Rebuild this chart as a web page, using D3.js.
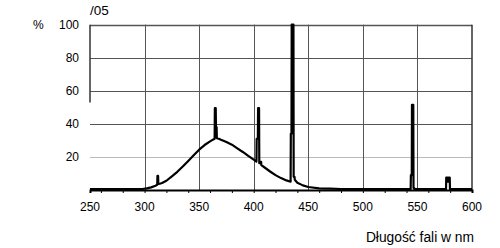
<!DOCTYPE html>
<html>
<head>
<meta charset="utf-8">
<script src="https://cdn.jsdelivr.net/npm/d3@7"></script>
<style>
  body { margin: 0; background: #fff; }
  svg text { font-family: "Liberation Sans", Arial, sans-serif; font-size: 12px; fill: #000; }
</style>
</head>
<body>
<div id="chart"></div>
<script>
// spectrum: wavelength (nm) and relative intensity (%)
const wavelengths = [250, 270, 290, 298, 302, 306, 310, 311.6, 311.8, 312.4, 312.6, 314, 316, 320, 325, 330, 335, 340, 345, 350, 355, 360, 363, 364.2, 364.4, 365.2, 365.4, 366, 366.2, 368, 370, 375, 380, 385, 390, 395, 400, 402.5, 402.7, 403.8, 404.0, 404.9, 405.1, 405.8, 406.0, 406.8, 407, 410, 415, 420, 425, 430, 433.8, 434.0, 434.6, 434.8, 436.4, 436.6, 437.4, 437.6, 440, 445, 450, 460, 470, 480, 500, 520, 540, 543.8, 544.0, 544.8, 545.0, 546.2, 546.4, 547, 547.2, 550, 570, 576.2, 576.4, 577.6, 577.8, 578.4, 578.6, 579.6, 579.8, 585, 600]
const intensity = [0.5, 0.5, 0.5, 0.6, 1, 1.6, 2.6, 3.2, 8.5, 8.5, 3.6, 3.8, 4.2, 5.6, 8.2, 11, 14.2, 17.6, 21, 24.4, 27.2, 29.4, 30.6, 31, 49.5, 49.5, 38, 38, 31.4, 31, 30.4, 29, 27.4, 25.2, 23, 20.6, 18.4, 17.2, 31, 31, 49.5, 49.5, 16.2, 16.2, 17, 17, 15, 13.6, 11.2, 9, 7.2, 5.8, 5, 34, 34, 100, 100, 8, 8, 6.2, 4.4, 2.8, 1.8, 1, 0.8, 0.6, 0.5, 0.5, 0.5, 0.6, 9, 9, 51.5, 51.5, 1.2, 1.2, 0.5, 0.5, 0.5, 0.5, 7.5, 7.5, 5, 5, 7.5, 7.5, 0.5, 0.5, 0.5]

const xTickLabels = [250, 300, 350, 400, 450, 500, 550, 600]
const xGridValues = [300, 350, 400, 450, 500, 550]
const xMinorTicks = d3.range(260, 601, 20)
const yTickLabels = [20, 40, 60, 80, 100]
const chartCode = '/05'
const unitLabel = '%'
const xTitle = 'Długość fali w nm'

const width = 500, height = 248
const plotLeft = 90, plotRight = 472, plotTop = 24.7, plotBottom = 190

const svg = d3.select('#chart').append('svg')
  .attr('width', width)
  .attr('height', height)

const x = d3.scaleLinear().domain([250, 600]).range([plotLeft, plotRight])
const y = d3.scaleLinear().domain([0, 100]).range([plotBottom, plotTop])

// grid
svg.append('g').selectAll('line')
  .data(yTickLabels)
  .enter().append('line')
  .attr('x1', plotLeft).attr('x2', plotRight)
  .attr('y1', d => Math.round(y(d)) + 0.5).attr('y2', d => Math.round(y(d)) + 0.5)
  .style('stroke', d => d === 20 ? '#bbb' : '#555')
  .style('stroke-width', d => d === 100 ? 1.5 : 1)

svg.append('g').selectAll('line')
  .data(xGridValues)
  .enter().append('line')
  .attr('x1', d => Math.round(x(d)) + 0.5).attr('x2', d => Math.round(x(d)) + 0.5)
  .attr('y1', plotTop).attr('y2', plotBottom)
  .style('stroke', '#555')
  .style('stroke-width', 1)

// frame: right side and upper part of left side
svg.append('line')
  .attr('x1', plotRight).attr('x2', plotRight).attr('y1', plotTop).attr('y2', plotBottom)
  .style('stroke', '#333').style('stroke-width', 1.5)
svg.append('line')
  .attr('x1', plotLeft).attr('x2', plotLeft).attr('y1', plotTop).attr('y2', y(53))
  .style('stroke', '#333').style('stroke-width', 1.5)

// bottom axis
const xAxis = d3.axisBottom(x)
  .tickValues(xMinorTicks)
  .tickSize(3)
  .tickFormat('')
const gx = svg.append('g')
  .attr('transform', `translate(0,${plotBottom})`)
  .call(xAxis)
gx.select('.domain').style('stroke', '#000').style('stroke-width', 2)
gx.selectAll('.tick line').style('stroke', '#000')

svg.append('g').selectAll('text')
  .data(xTickLabels)
  .enter().append('text')
  .attr('x', d => x(d))
  .attr('y', 211)
  .attr('text-anchor', 'middle')
  .text(d => d)

svg.append('g').selectAll('text')
  .data(yTickLabels)
  .enter().append('text')
  .attr('x', 79)
  .attr('y', d => y(d) + 4.5)
  .attr('text-anchor', 'end')
  .text(d => d)

svg.append('text').attr('x', 33).attr('y', y(100) + 4.5).text(unitLabel)
svg.append('text').attr('x', 90).attr('y', 15).style('font-size', '13.5px').text(chartCode)
svg.append('text').attr('x', 474).attr('y', 242).attr('text-anchor', 'end')
  .style('font-size', '13.8px').text(xTitle)

// spectrum
const points = wavelengths.map((w, i) => [w, intensity[i]])
const line = d3.line()
  .x(d => x(d[0]))
  .y(d => y(d[1]))

svg.append('path')
  .datum(points)
  .attr('d', line)
  .style('fill', 'none')
  .style('stroke', '#000')
  .style('stroke-width', 2.2)
  .style('stroke-linejoin', 'round')
</script>
</body>
</html>
